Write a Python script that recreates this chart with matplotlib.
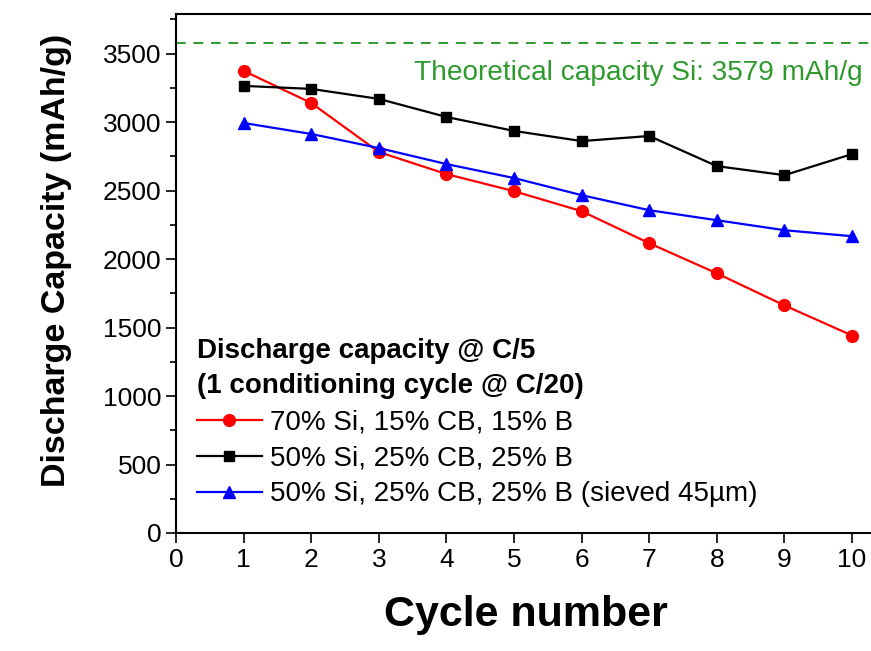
import matplotlib.pyplot as plt
from matplotlib.ticker import MultipleLocator

cycles = [1, 2, 3, 4, 5, 6, 7, 8, 9, 10]
si70 = [3375, 3140, 2782, 2621, 2496, 2350, 2116, 1896, 1662, 1442]
si50 = [3265, 3243, 3170, 3038, 2936, 2862, 2899, 2679, 2613, 2767]
si50_sieved = [2994, 2914, 2811, 2694, 2592, 2467, 2357, 2284, 2211, 2167]
labels = ['70% Si, 15% CB, 15% B',
          '50% Si, 25% CB, 25% B',
          '50% Si, 25% CB, 25% B (sieved 45\u00b5m)']
theoretical = 3579

plt.rcParams['font.family'] = ['Liberation Sans', 'DejaVu Sans']

fig = plt.figure(figsize=(8.71, 6.51), dpi=100)
ax = fig.add_axes([0.2021, 0.1813, 0.815, 0.7972])

ax.plot(cycles, si70, color='red', marker='o', ms=8.5, lw=1.6, label=labels[0])
ax.plot(cycles, si50, color='black', marker='s', ms=7.5, lw=1.6, label=labels[1])
ax.plot(cycles, si50_sieved, color='blue', marker='^', ms=9, lw=1.6, label=labels[2])

green = '#2e9a2e'
ax.axhline(theoretical, color=green, ls=(0, (5, 4)), lw=1.4)
ax.text(10.15, 3360, 'Theoretical capacity Si: 3579 mAh/g',
        color=green, fontsize=20.2, ha='right', va='center')

ax.set_xlim(0, 10.5)
ax.set_ylim(0, 3790)
ax.xaxis.set_major_locator(MultipleLocator(1))
ax.yaxis.set_major_locator(MultipleLocator(500))
ax.yaxis.set_minor_locator(MultipleLocator(250))
ax.tick_params(which='major', direction='out', length=7, width=1.2, labelsize=19)
ax.tick_params(which='minor', direction='out', length=4, width=1.2)
for s in ax.spines.values():
    s.set_linewidth(1.5)

ax.set_xlabel('Cycle number', fontsize=31, fontweight='bold')
ax.set_ylabel('Discharge Capacity (mAh/g)', fontsize=24.5, fontweight='bold')
ax.xaxis.set_label_coords(0.493, -0.119)
ax.yaxis.set_label_coords(-0.146, 0.526)

leg = ax.legend(loc='upper left', bbox_to_anchor=(0.029, 0.375), frameon=False,
                fontsize=20, title='Discharge capacity @ C/5\n(1 conditioning cycle @ C/20)',
                title_fontproperties={'weight': 'bold', 'size': 20},
                alignment='left', handlelength=2.35, handletextpad=0.3,
                labelspacing=0.36, borderpad=0, borderaxespad=0)
leg.get_title().set_linespacing(1.45)

fig.savefig('out.png', dpi=100)
